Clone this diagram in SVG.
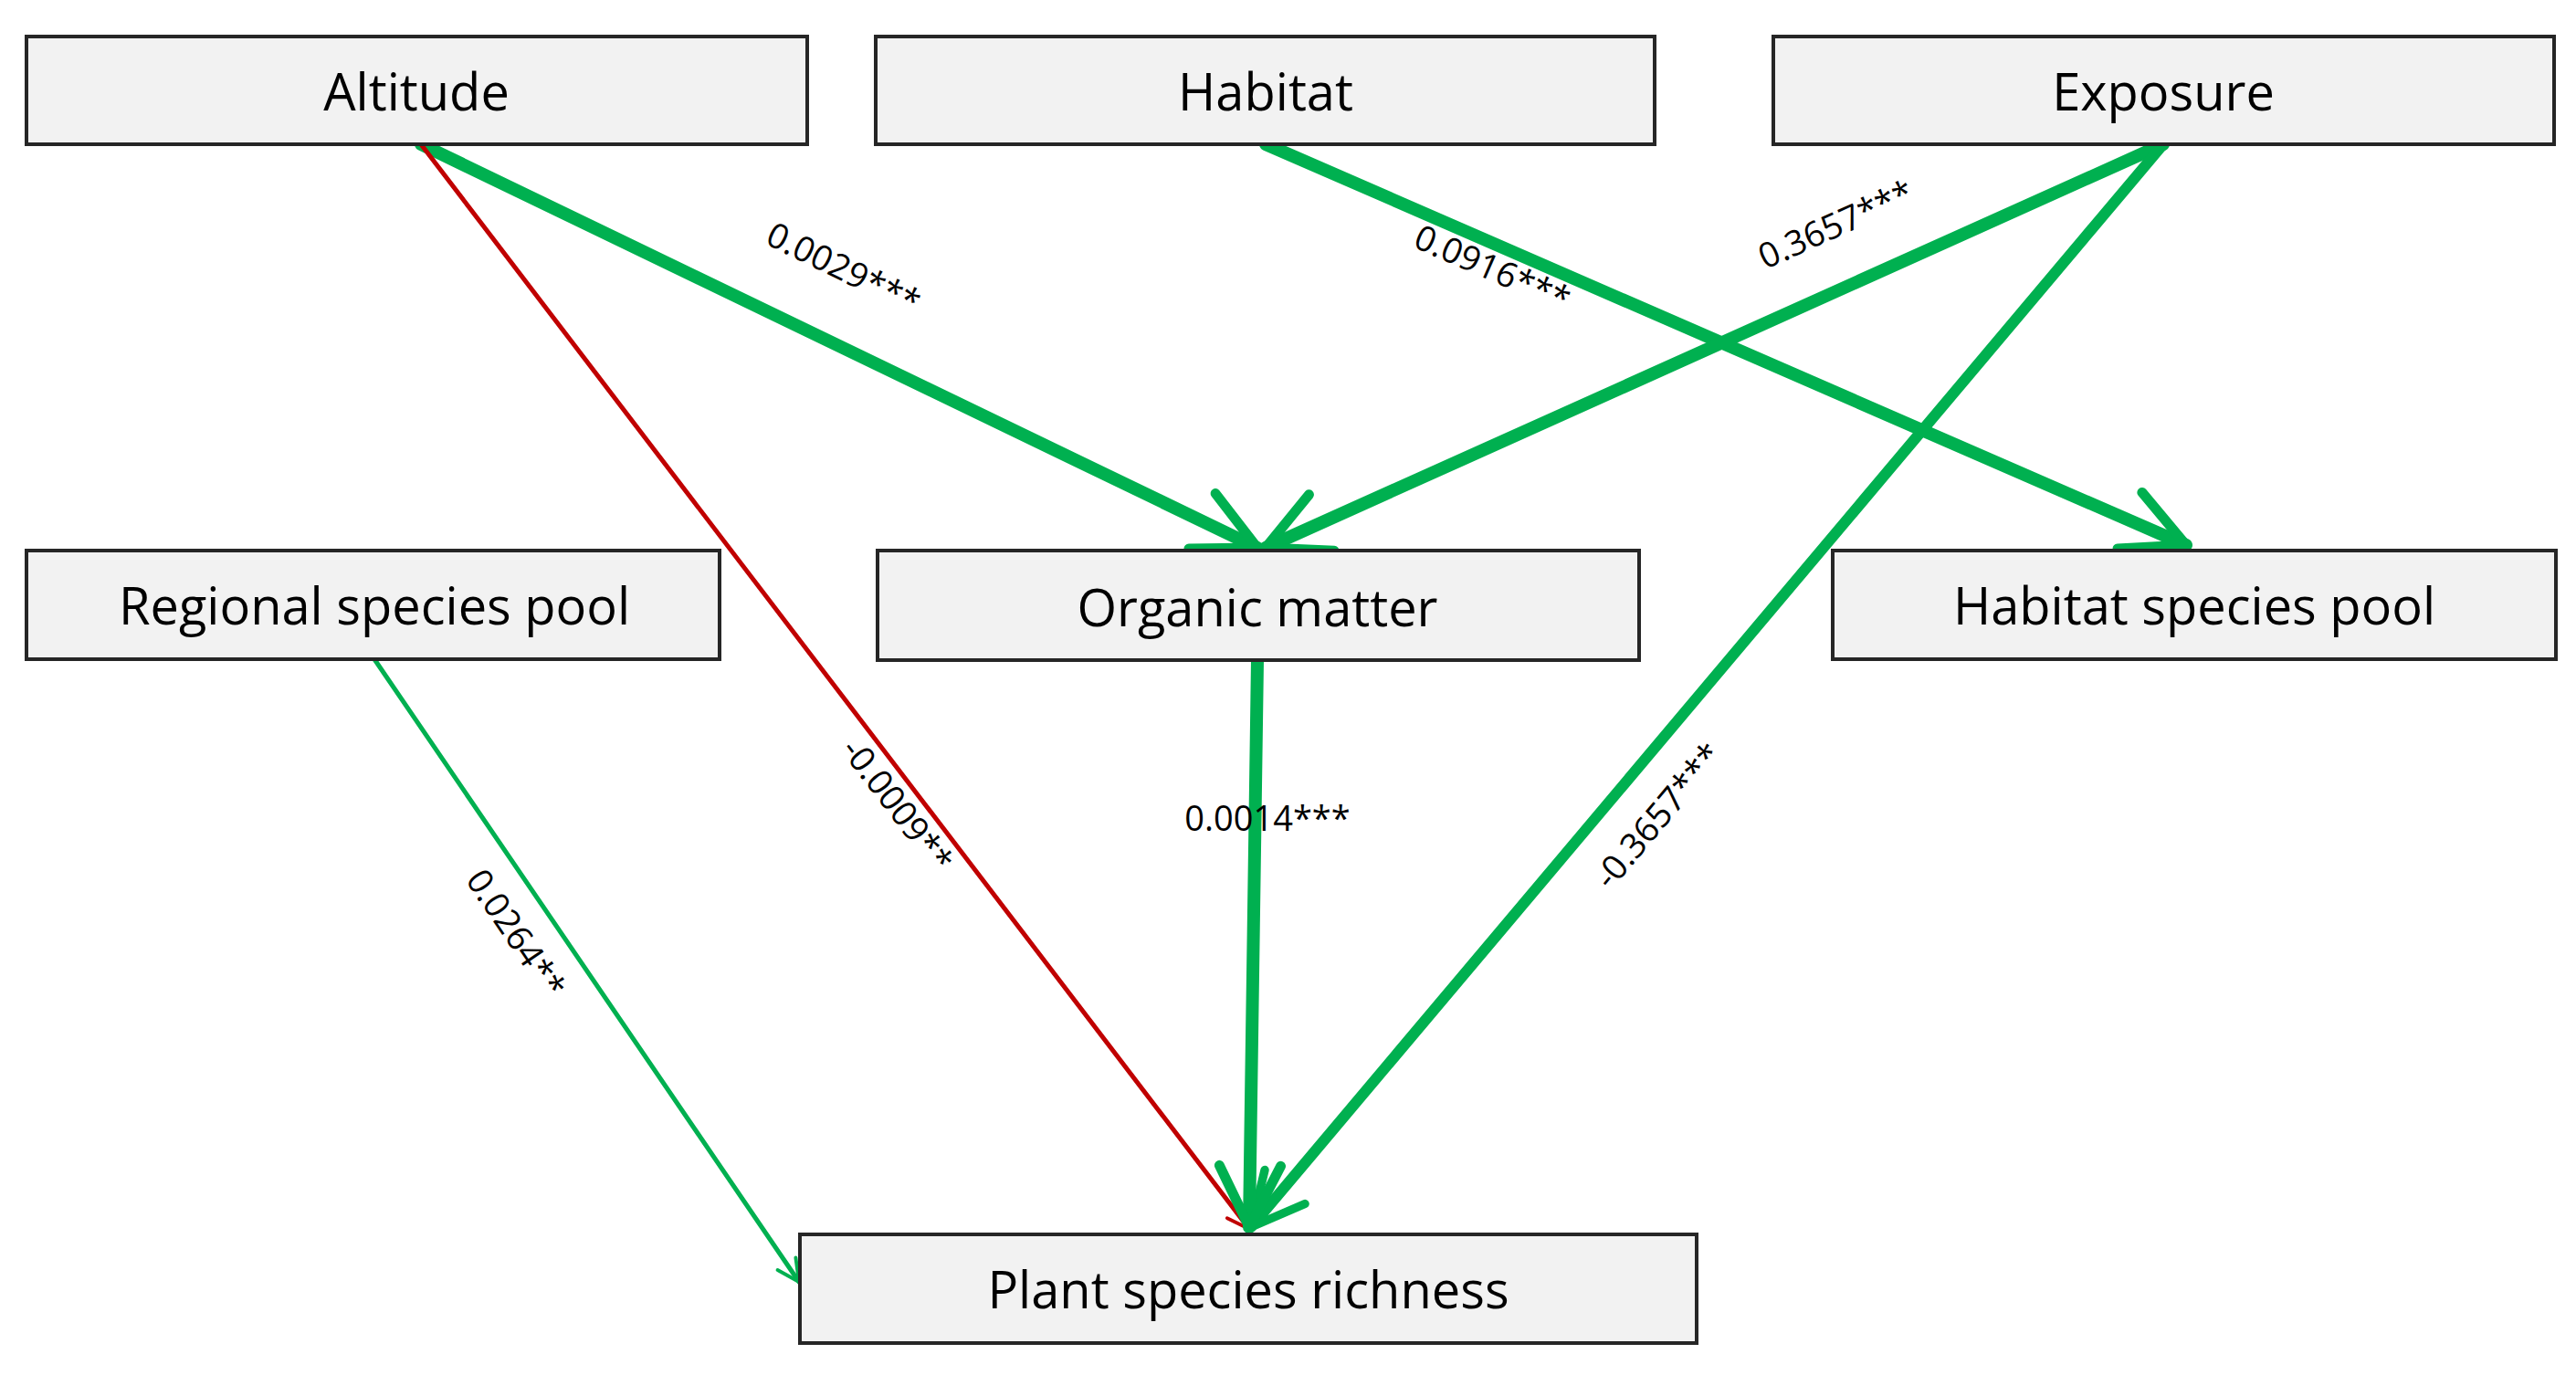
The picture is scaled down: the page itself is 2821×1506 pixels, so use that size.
<svg xmlns="http://www.w3.org/2000/svg" width="2821" height="1506" viewBox="0 0 2821 1506">
<style>
.box{fill:#F2F2F2;stroke:#262626;stroke-width:4}
.nl{font-family:"Open Sans","Liberation Sans",sans-serif;font-size:56px;fill:#000;text-anchor:middle;dominant-baseline:central}
.el{font-family:"Open Sans","Liberation Sans",sans-serif;font-size:38px;fill:#000;text-anchor:middle}
.g{stroke:#00B050;fill:none;stroke-linecap:round}
.r{stroke:#C00000;fill:none;stroke-linecap:round}
</style>
<defs>
<marker id="ag" viewBox="0 0 10 10" refX="9" refY="5" markerWidth="6" markerHeight="6" orient="auto" markerUnits="strokeWidth"><path d="M1,1 L9,5 L1,9" fill="none" stroke="#00B050" stroke-width="1.3" stroke-linecap="round" stroke-linejoin="round"/></marker>
<marker id="ar" viewBox="0 0 10 10" refX="9" refY="5" markerWidth="6" markerHeight="6" orient="auto" markerUnits="strokeWidth"><path d="M1,1 L9,5 L1,9" fill="none" stroke="#C00000" stroke-width="1.3" stroke-linecap="round" stroke-linejoin="round"/></marker>
</defs>
<rect width="2821" height="1506" fill="#fff"/>
<g id="connectors">
<line class="g" x1="461" y1="158" x2="1377" y2="600" stroke-width="14" marker-end="url(#ag)"/>
<line class="r" x1="461" y1="158" x2="1368" y2="1346" stroke-width="5" marker-end="url(#ar)"/>
<line class="g" x1="1386" y1="158" x2="2394" y2="597" stroke-width="14" marker-end="url(#ag)"/>
<line class="g" x1="2369" y1="158" x2="1386" y2="600" stroke-width="14" marker-end="url(#ag)"/>
<line class="g" x1="2369" y1="158" x2="1370" y2="1344" stroke-width="12" marker-end="url(#ag)"/>
<line class="g" x1="1377" y1="723" x2="1368" y2="1344" stroke-width="14" marker-end="url(#ag)"/>
<line class="g" x1="410" y1="722" x2="875" y2="1404" stroke-width="5" marker-end="url(#ag)"/>
</g>
<g id="labels">
<text class="el" transform="translate(918,306) rotate(26)">0.0029***</text>
<text class="el" transform="translate(1629,306) rotate(23.6)">0.0916***</text>
<text class="el" transform="translate(2016,258) rotate(-24.3)">0.3657***</text>
<text class="el" transform="translate(972,890) rotate(52.6)">-0.0009**</text>
<text class="el" x="1388" y="910">0.0014***</text>
<text class="el" transform="translate(1826,902) rotate(-49.9)">-0.3657***</text>
<text class="el" transform="translate(554,1030) rotate(55.8)">0.0264**</text>
</g>
<g id="altitude"><rect class="box" x="29" y="40" width="855" height="118"/><text class="nl" x="456" y="99">Altitude</text></g>
<g id="habitat"><rect class="box" x="959" y="40" width="853" height="118"/><text class="nl" x="1386" y="99">Habitat</text></g>
<g id="exposure"><rect class="box" x="1942" y="40" width="855" height="118"/><text class="nl" x="2369" y="99">Exposure</text></g>
<g id="regional"><rect class="box" x="29" y="603" width="759" height="119"/><text class="nl" x="410" y="662">Regional species pool</text></g>
<g id="organic"><rect class="box" x="961" y="603" width="834" height="120"/><text class="nl" x="1377" y="664">Organic matter</text></g>
<g id="habitatpool"><rect class="box" x="2007" y="603" width="792" height="119"/><text class="nl" x="2403" y="662">Habitat species pool</text></g>
<g id="plant"><rect class="box" x="876" y="1352" width="982" height="119"/><text class="nl" x="1367" y="1411">Plant species richness</text></g>
</svg>
